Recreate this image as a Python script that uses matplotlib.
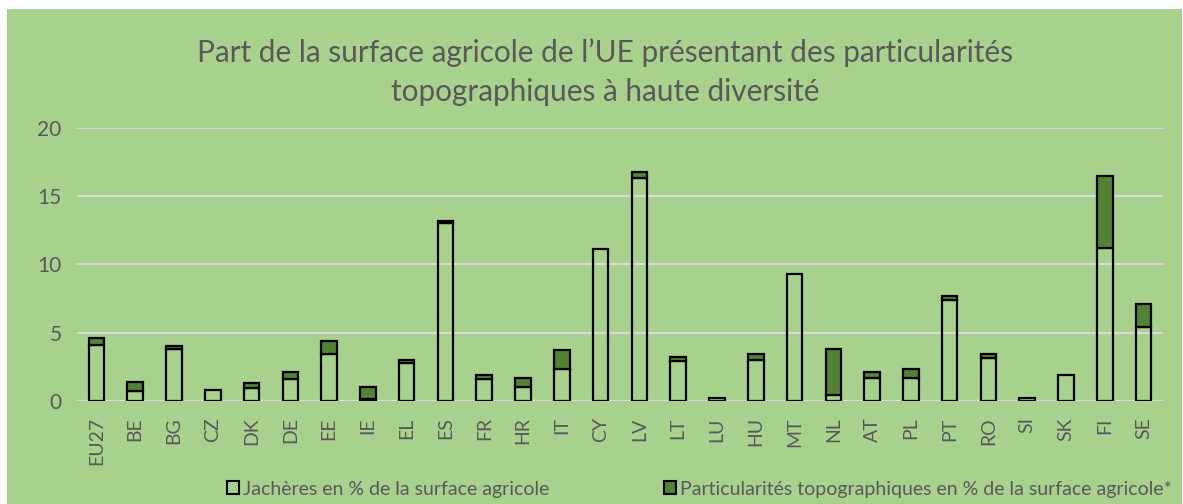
import matplotlib
matplotlib.use("Agg")
import matplotlib.pyplot as plt
from matplotlib.patches import Patch, Rectangle
import numpy as np

categories = ["EU27", "BE", "BG", "CZ", "DK", "DE", "EE", "IE", "EL", "ES", "FR", "HR", "IT",
              "CY", "LV", "LT", "LU", "HU", "MT", "NL", "AT", "PL", "PT", "RO", "SI", "SK", "FI", "SE"]
fallow = [4.1, 0.7, 3.8, 0.8, 0.9, 1.6, 3.4, 0.1, 2.8, 13.0, 1.6, 1.0, 2.3,
          11.1, 16.3, 2.9, 0.2, 3.0, 9.3, 0.4, 1.7, 1.7, 7.4, 3.1, 0.2, 1.9, 11.2, 5.4]
features = [0.5, 0.7, 0.2, 0.0, 0.4, 0.5, 1.0, 0.9, 0.2, 0.2, 0.3, 0.7, 1.4,
            0.0, 0.5, 0.3, 0.0, 0.4, 0.0, 3.4, 0.4, 0.6, 0.3, 0.3, 0.0, 0.0, 5.3, 1.7]
yticks = [0, 5, 10, 15, 20]
title = "Part de la surface agricole de l\u2019UE présentant des particularités\ntopographiques à haute diversité"
label_fallow = "Jachères en % de la surface agricole"
label_features = "Particularités topographiques en % de la surface agricole*"

BG = "#A9D18E"
DARK = "#548235"
TXT = "#595959"
plt.rcParams['font.family'] = ['Lato', 'DejaVu Sans']

W, H = 1183, 504
fig = plt.figure(figsize=(W / 100, H / 100), dpi=100)
fig.patch.set_facecolor("white")
fig.patches.append(Rectangle((7 / W, 0), 1 - 8 / W, 1 - 9 / H, transform=fig.transFigure,
                             facecolor=BG, edgecolor="none", zorder=-10))

ax = fig.add_axes([77 / W, 1 - 400.7 / H, (1163 - 77) / W, (400.7 - 128) / H])
ax.set_facecolor("none")
x = np.arange(len(categories))
f = np.array(fallow)
t = np.array(features)
ax.bar(x, f, width=0.4, facecolor="none", edgecolor="black", linewidth=1.6, zorder=3)
mask = t > 0
ax.bar(x[mask], t[mask], bottom=f[mask], width=0.4, facecolor=DARK, edgecolor="black",
       linewidth=1.6, zorder=3)

ax.set_xlim(-0.5, len(categories) - 0.5)
ax.set_ylim(0, 20)
ax.set_yticks(yticks)
ax.set_xticks(x)
ax.set_xticklabels(categories, rotation=90)
ax.tick_params(axis="both", length=0, colors=TXT)
ax.tick_params(axis="y", labelsize=15, pad=11)
ax.tick_params(axis="x", labelsize=14, pad=12)
for s in ax.spines.values():
    s.set_visible(False)
ax.yaxis.grid(True, color="#D9D9D9", linewidth=1.5, zorder=0)
ax.set_axisbelow(True)

fig.text(605 / W, 1 - 72 / H, title, ha="center", va="center", fontsize=21.4, color=TXT,
         linespacing=1.5)

h1 = [Patch(facecolor=BG, edgecolor="black", linewidth=1.5)]
h2 = [Patch(facecolor=DARK, edgecolor="black", linewidth=1.5)]
kw = dict(frameon=False, fontsize=14, handlelength=0.6, handleheight=0.6, handletextpad=0.2,
          labelcolor=TXT, borderpad=0, borderaxespad=0)
fig.legend(h1, [label_fallow], loc="center left", bbox_to_anchor=(227 / W, 1 - 489 / H), **kw)
fig.legend(h2, [label_features], loc="center left", bbox_to_anchor=(664 / W, 1 - 489 / H), **kw)

fig.savefig("out.png", dpi=100, facecolor=fig.get_facecolor())
